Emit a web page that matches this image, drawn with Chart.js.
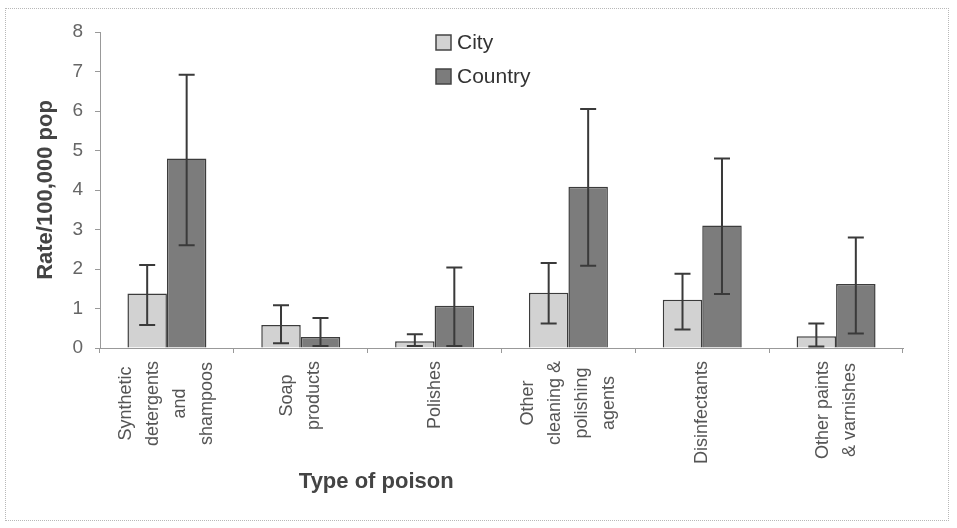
<!DOCTYPE html>
<html>
<head>
<meta charset="utf-8">
<script src="https://cdn.jsdelivr.net/npm/chart.js@4/dist/chart.umd.min.js"></script>
<style>
    body { margin: 0; background: #fff; }
    #wrap { position: relative; width: 957px; height: 528px; }
    #frame { position: absolute; left: 5px; top: 8px; width: 942px; height: 511px; border: 1px dotted #b8b8b8; pointer-events: none; }
</style>
</head>
<body>
<div id="wrap">
    <canvas id="poisonChart" width="957" height="528"></canvas>
    <div id="frame"></div>
</div>
<script>
// Datos
const categories = [
    ['Synthetic', 'detergents', 'and', 'shampoos'],
    ['Soap', 'products'],
    ['Polishes'],
    ['Other', 'cleaning &', 'polishing', 'agents'],
    ['Disinfectants'],
    ['Other paints', '& varnishes']
];
const seriesNames = ['City', 'Country'];
const cityRate = [1.38, 0.58, 0.17, 1.4, 1.22, 0.3];
const cityLow = [0.58, 0.12, 0.05, 0.62, 0.47, 0.04];
const cityHigh = [2.1, 1.08, 0.35, 2.15, 1.88, 0.62];
const countryRate = [4.8, 0.28, 1.07, 4.08, 3.1, 1.62];
const countryLow = [2.6, 0.05, 0.05, 2.08, 1.37, 0.37];
const countryHigh = [6.92, 0.76, 2.04, 6.05, 4.8, 2.8];
const yTicks = [0, 1, 2, 3, 4, 5, 6, 7, 8];

const FONT = '"Liberation Sans", Arial, Helvetica, sans-serif';
const fillColors = ['#d2d2d2', '#7c7c7c'];

// Barras de error (intervalos) dibujadas sobre cada barra
const errorBars = {
    id: 'errorBars',
    afterDatasetsDraw(chart) {
        const ctx = chart.ctx;
        const y = chart.scales.y;
        const ranges = [[cityLow, cityHigh], [countryLow, countryHigh]];
        ctx.save();
        ctx.strokeStyle = '#3a3a3a';
        ctx.lineWidth = 2;
        chart.data.datasets.forEach((ds, i) => {
            chart.getDatasetMeta(i).data.forEach((bar, j) => {
                const lo = y.getPixelForValue(ranges[i][0][j]);
                const hi = y.getPixelForValue(ranges[i][1][j]);
                ctx.beginPath();
                ctx.moveTo(bar.x, lo);
                ctx.lineTo(bar.x, hi);
                ctx.moveTo(bar.x - 8, hi);
                ctx.lineTo(bar.x + 8, hi);
                ctx.moveTo(bar.x - 8, lo);
                ctx.lineTo(bar.x + 8, lo);
                ctx.stroke();
            });
        });
        ctx.restore();
    }
};

// Etiquetas verticales centradas, título del eje X y leyenda
const extras = {
    id: 'extras',
    afterDraw(chart) {
        const ctx = chart.ctx;
        const x = chart.scales.x;
        const area = chart.chartArea;
        const top = area.bottom + 13;
        const gap = 27;

        ctx.save();
        ctx.font = '18px ' + FONT;
        ctx.fillStyle = '#555';
        ctx.textAlign = 'center';
        ctx.textBaseline = 'middle';
        categories.forEach((lines, i) => {
            const w = Math.max(...lines.map(t => ctx.measureText(t).width));
            ctx.save();
            ctx.translate(x.getPixelForValue(i), top + w / 2);
            ctx.rotate(-Math.PI / 2);
            lines.forEach((t, k) => ctx.fillText(t, 0, (k - (lines.length - 1) / 2) * gap));
            ctx.restore();
        });

        ctx.font = 'bold 22px ' + FONT;
        ctx.fillStyle = '#444';
        ctx.fillText('Type of poison', area.left + area.width * 0.344, 482);

        // leyenda
        ctx.textAlign = 'left';
        ctx.font = '21px ' + FONT;
        const lx = area.left + 336;
        seriesNames.forEach((name, i) => {
            const ly = area.top + 3 + i * 34;
            ctx.fillStyle = fillColors[i];
            ctx.fillRect(lx, ly, 15, 15);
            ctx.strokeStyle = '#444';
            ctx.lineWidth = 1.5;
            ctx.strokeRect(lx, ly, 15, 15);
            ctx.fillStyle = '#333';
            ctx.fillText(name, lx + 21, ly + 8);
        });
        ctx.restore();
    }
};

const ctxPoison = document.getElementById('poisonChart').getContext('2d');

const poisonChart = new Chart(ctxPoison, {
    type: 'bar',
    data: {
        labels: categories,
        datasets: [
            {
                label: seriesNames[0],
                data: cityRate,
                backgroundColor: fillColors[0],
                borderColor: '#3c3c3c',
                borderWidth: 1.5
            },
            {
                label: seriesNames[1],
                data: countryRate,
                backgroundColor: fillColors[1],
                borderColor: '#3c3c3c',
                borderWidth: 1.5
            }
        ]
    },
    options: {
        responsive: false,
        animation: false,
        layout: { padding: { left: 0, top: 32, right: 54, bottom: 0 } },
        categoryPercentage: 0.59,
        barPercentage: 1,
        plugins: {
            legend: { display: false },
            tooltip: { enabled: false }
        },
        scales: {
            x: {
                grid: { offset: true, drawOnChartArea: false, tickLength: 5, color: '#999' },
                border: { display: true, color: '#999', dash: [2, 2] },
                ticks: { display: false },
                afterFit(scale) { scale.height = 180; }
            },
            y: {
                min: 0,
                max: 8,
                afterBuildTicks(scale) { scale.ticks = yTicks.map(v => ({ value: v })); },
                grid: { drawOnChartArea: false, tickLength: 5, color: '#999' },
                border: { display: true, color: '#999', dash: [2, 2] },
                ticks: { font: { family: FONT, size: 19 }, color: '#666', padding: 12 },
                title: {
                    display: true,
                    text: 'Rate/100,000 pop',
                    font: { family: FONT, size: 22, weight: 'bold' },
                    color: '#444',
                    padding: { top: 33, bottom: 0 }
                },
                afterFit(scale) { scale.width = 100; }
            }
        }
    },
    plugins: [errorBars, extras]
});
</script>
</body>
</html>
